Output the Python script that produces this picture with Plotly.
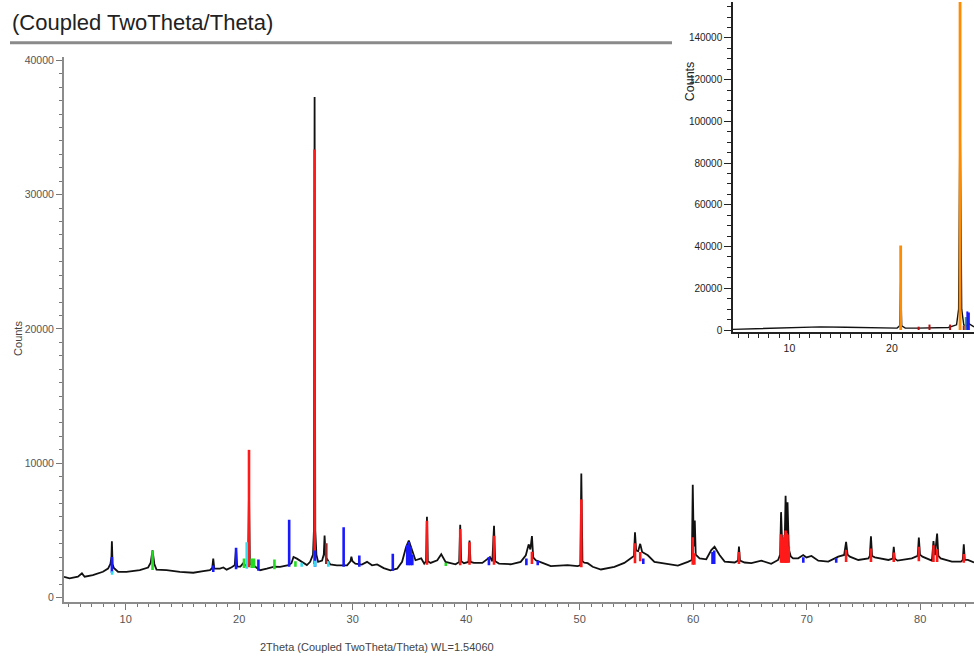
import plotly.graph_objects as go

# ---------------- main pattern (2theta, counts) ----------------
two_theta = [4.56, 5.05, 5.79, 6.14, 6.38, 7.1, 7.99, 8.44, 8.65, 8.74, 8.78, 8.84, 8.95, 9.32,
             10.06, 11.24, 11.97, 12.2, 12.36, 12.52, 12.71, 13.6, 14.77, 15.95, 16.83, 17.42,
             17.62, 17.71, 17.8, 18.3, 18.6, 18.89, 19.33, 19.6, 19.72, 19.82, 20.1, 20.36, 20.6,
             20.78, 20.86, 20.94, 21.3, 21.84, 22.43, 23.1, 23.6, 24.34, 24.6, 24.78, 25.08, 25.5,
             25.96, 26.25, 26.5, 26.58, 26.64, 26.7, 26.8, 26.95, 27.3, 27.45, 27.52, 27.62,
             27.75, 28.02, 28.6, 29.5, 29.8, 29.88, 29.98, 30.23, 30.8, 31.26, 31.7, 32.15, 32.73,
             33.32, 33.91, 34.35, 34.7, 34.94, 35.15, 35.53, 36.03, 36.3, 36.46, 36.54, 36.62,
             36.86, 37.45, 37.8, 38.18, 39.06, 39.38, 39.47, 39.56, 39.8, 40.2, 40.29, 40.38,
             40.68, 41.42, 42.09, 42.3, 42.45, 42.55, 42.89, 43.92, 44.8, 45.25, 45.5, 45.65,
             45.79, 45.9, 46.13, 46.72, 47.45, 48.93, 49.81, 50.05, 50.14, 50.24, 50.4, 50.7,
             51.14, 51.87, 53.05, 53.93, 54.52, 54.78, 54.87, 54.97, 55.15, 55.33, 55.5, 55.85,
             56.0, 56.58, 58.06, 58.65, 59.53, 59.88, 59.96, 60.05, 60.14, 60.22, 60.56, 61.15,
             61.59, 61.88, 62.32, 62.77, 63.65, 63.95, 64.03, 64.12, 64.53, 65.12, 66.0, 66.87,
             67.48, 67.66, 67.74, 67.84, 67.95, 68.06, 68.14, 68.22, 68.31, 68.42, 68.6, 68.8,
             69.25, 69.69, 69.98, 70.42, 71.02, 71.9, 72.78, 73.3, 73.47, 73.6, 73.8, 74.55,
             75.43, 75.56, 75.66, 75.76, 76.0, 77.2, 77.58, 77.67, 77.76, 78.0, 79.26, 79.78,
             79.88, 79.98, 80.2, 81.03, 81.17, 81.3, 81.49, 81.6, 81.8, 82.79, 83.6, 83.75,
             83.84, 83.93, 84.2, 84.74]
counts = [1550, 1430, 1550, 1800, 1550, 1670, 1920, 2160, 2500, 3000, 4200, 2500, 2200, 1920,
          1920, 2040, 2240, 2600, 3510, 2500, 2080, 2040, 1920, 1850, 1970, 2040,
          2200, 2900, 2150, 2160, 2240, 2080, 2260, 2400, 3630, 2300, 2300, 2560, 2360,
          2500, 7860, 2500, 2360, 2040, 2150, 2310, 2280, 2410, 2560, 3020, 2900, 2660,
          2420, 2660, 3200, 5000, 37270, 5000, 3200, 2660, 2760, 3200, 4610, 3000,
          2860, 2470, 2400, 2400, 2700, 3040, 2700, 2530, 2460, 2660, 2400, 2470, 2190,
          2020, 2150, 2660, 3760, 4250, 3660, 2780, 2920, 2530, 2700, 6010, 2700,
          2580, 2780, 3220, 2660, 2480, 2650, 5420, 2700, 2560, 2650, 4250, 2650,
          2580, 2580, 3020, 2700, 5350, 2700, 2530, 2480, 2660, 3150, 3960, 3580,
          4580, 3000, 2780, 2580, 2340, 2410, 2340, 2400, 9230, 2700, 2600, 2560,
          2290, 2090, 2290, 2580, 2900, 3100, 4860, 3500, 3460, 4000, 3400, 3260,
          3150, 2660, 2470, 2380, 2660, 2800, 8400, 3800, 5730, 3200, 2920, 2850,
          3540, 3780, 3170, 2680, 2610, 2750, 3800, 2750, 2610, 2560, 2750, 2510,
          2800, 3200, 6360, 3900, 3860, 4200, 7580, 4500, 7090, 3600, 3060, 2920,
          2920, 3170, 2990, 3100, 2750, 2680, 3050, 3170, 4150, 3200, 3050, 2800,
          2920, 3100, 4560, 3100, 2990, 2800, 2900, 3780, 2900, 2750, 2920, 3100,
          4460, 3200, 3050, 2750, 4210, 3160, 4760, 3100, 2920, 2680, 2680, 2800,
          3970, 2800, 2800, 2610]

# ---------------- reference phase sticks (main) ----------------
red_pos = [20.86, 26.64, 36.54, 39.47, 40.29, 42.45, 45.79, 50.14, 54.87, 55.33, 59.96, 60.1,
           64.03, 67.74, 67.84, 67.95, 68.05, 68.14, 68.22, 68.31, 68.42, 73.47, 75.66, 77.67,
           79.88, 81.17, 81.49, 83.84]
red_top = [11000, 33360, 5720, 5100, 4120, 4610, 3410, 7310, 4050, 3400, 4490, 3300,
           3390, 4720, 4300, 4500, 4650, 5000, 4800, 4700, 3800, 3540, 3660, 3350,
           3780, 3900, 3600, 3250]
red_base = [2250, 2500, 2450, 2400, 2450, 2450, 2500, 2250, 2550, 2700, 2450, 2450,
            2500, 2600, 2600, 2600, 2600, 2600, 2600, 2600, 2600, 2650, 2650, 2650,
            2700, 2650, 2650, 2600]

darkred_pos = [27.67]
darkred_top = [4050]
darkred_base = [2500]

blue_pos = [8.78, 17.71, 19.72, 21.69, 24.4, 26.68, 29.2, 30.58, 33.53, 34.8, 34.95, 35.1,
            35.25, 42.0, 45.3, 46.3, 55.6, 61.7, 61.85, 69.7, 72.6]
blue_top = [3020, 2380, 3710, 2830, 5790, 3510, 5230, 3140, 3270, 3900, 4130, 3800,
            3200, 3020, 2900, 2750, 2900, 3400, 3500, 3000, 2950]
blue_base = [1850, 1900, 2100, 2000, 2300, 2300, 2300, 2300, 2000, 2400, 2400, 2400,
             2400, 2400, 2400, 2400, 2500, 2500, 2500, 2600, 2600]

green_pos = [12.36, 20.42, 21.1, 21.3, 23.1, 24.95, 38.2]
green_top = [3510, 2900, 2900, 2900, 2830, 2700, 2600]
green_base = [2050, 2200, 2200, 2200, 2100, 2300, 2350]

cyan_pos = [8.8, 20.66, 25.5, 26.68, 27.85]
cyan_top = [1950, 4120, 2600, 2750, 2700]
cyan_base = [1700, 2150, 2300, 2300, 2300]

# ---------------- inset pattern ----------------
inset_tt = [4.5, 6, 8, 10, 11.5, 13, 15.5, 18, 20.5, 20.75, 20.85, 20.95, 21.3, 22.5, 24, 25.5,
            26.3, 26.5, 26.64, 26.8, 27.0, 27.3, 27.5, 28.0]
inset_counts = [300, 500, 900, 1200, 1400, 1500, 1300, 1000, 900, 2000, 22800, 2000, 900, 900,
                1000, 1200, 2500, 10000, 106500, 10000, 2500, 2000, 3000, 1500]

orange_pos = [20.85, 26.64]
orange_top = [40500, 190000]
inset_red_pos = [22.6, 23.66, 25.67, 27.0]
inset_red_top = [1600, 2600, 2600, 2200]
inset_blue_pos = [27.35, 27.5]
inset_blue_top = [8900, 8400]
inset_green_pos = [27.2]
inset_green_top = [6200]

FONT = "Liberation Sans, Arial, sans-serif"


def sticks(pos, top, base=None):
    xs, ys = [], []
    for i, p in enumerate(pos):
        b = 0 if base is None else base[i]
        xs += [p, p, None]
        ys += [b, top[i], None]
    return xs, ys


fig = go.Figure()

# main pattern
fig.add_trace(go.Scatter(x=two_theta, y=counts, mode="lines",
                         line=dict(color="#111111", width=1.8), xaxis="x", yaxis="y"))
for pos, top, base, col in [(red_pos, red_top, red_base, "#ff1a1a"),
                            (darkred_pos, darkred_top, darkred_base, "#9a2a2a"),
                            (blue_pos, blue_top, blue_base, "#1a1aff"),
                            (green_pos, green_top, green_base, "#22dd22"),
                            (cyan_pos, cyan_top, cyan_base, "#33ddee")]:
    xs, ys = sticks(pos, top, base)
    fig.add_trace(go.Scatter(x=xs, y=ys, mode="lines", line=dict(color=col, width=2.6),
                             xaxis="x", yaxis="y"))

# inset
fig.add_trace(go.Scatter(x=inset_tt, y=inset_counts, mode="lines",
                         line=dict(color="#111111", width=1.4), xaxis="x2", yaxis="y2"))
for pos, top, col, w in [(orange_pos, orange_top, "#ff8c00", 2.8),
                         (inset_red_pos, inset_red_top, "#b01010", 2),
                         (inset_green_pos, inset_green_top, "#22bb22", 2),
                         (inset_blue_pos, inset_blue_top, "#1a1aff", 2)]:
    xs, ys = sticks(pos, top)
    fig.add_trace(go.Scatter(x=xs, y=ys, mode="lines", line=dict(color=col, width=w),
                             xaxis="x2", yaxis="y2"))

W, H = 974, 663
fig.update_layout(
    width=W, height=H, margin=dict(l=0, r=0, t=0, b=0),
    paper_bgcolor="white", plot_bgcolor="white", showlegend=False,
    font=dict(family=FONT),
    xaxis=dict(domain=[64 / W, 1], range=[4.56, 84.74], showline=True, linecolor="#8c8c8c",
               linewidth=2, ticks="outside", ticklen=6, tickcolor="#777", tickwidth=1,
               tick0=0, dtick=10, showgrid=False, zeroline=False,
               tickfont=dict(size=11, color="#555"),
               minor=dict(ticks="outside", ticklen=3, dtick=1, tick0=0, tickcolor="#777", showgrid=False)),
    yaxis=dict(domain=[(H - 605) / H, (H - 55) / H], range=[-295, 40290], showline=True,
               linecolor="#8c8c8c", linewidth=2, ticks="outside", ticklen=6, tickcolor="#777",
               tick0=0, dtick=10000, tickformat="d", showgrid=False, zeroline=False,
               tickfont=dict(size=10.5, color="#555"),
               minor=dict(ticks="outside", ticklen=3, dtick=1000, tick0=0, tickcolor="#777", showgrid=False)),
    xaxis2=dict(domain=[733 / W, 1], range=[4.5, 28.0], anchor="y2", showline=True,
                linecolor="#222", linewidth=1.5, ticks="outside", ticklen=6, tickcolor="#222",
                tick0=0, dtick=10, showgrid=False, zeroline=False,
                tickfont=dict(size=10.5, color="#222"),
                minor=dict(ticks="outside", ticklen=4, dtick=1, tick0=0, tickcolor="#222", showgrid=False)),
    yaxis2=dict(domain=[(H - 333) / H, 1], range=[-950, 157200], anchor="x2", showline=True,
                linecolor="#222", linewidth=1.5, ticks="outside", ticklen=7, tickcolor="#222",
                tick0=0, dtick=20000, tickformat="d", showgrid=False, zeroline=False,
                tickfont=dict(size=10, color="#222"),
                minor=dict(ticks="outside", ticklen=4, dtick=5000, tick0=0, tickcolor="#222", showgrid=False)),
    shapes=[dict(type="line", xref="paper", yref="paper", x0=10 / W, x1=672 / W,
                 y0=1 - 41 / H, y1=1 - 41 / H, line=dict(color="#8a8a8a", width=3))],
    annotations=[
        dict(text="(Coupled TwoTheta/Theta)", xref="paper", yref="paper", x=10 / W, y=1 - 21 / H,
             xanchor="left", yanchor="middle", showarrow=False,
             font=dict(size=22, color="#222", family=FONT)),
        dict(text="Counts", xref="paper", yref="paper", x=18 / W, y=1 - 340 / H, textangle=-90,
             xanchor="center", yanchor="middle", showarrow=False,
             font=dict(size=11, color="#444", family=FONT)),
        dict(text="2Theta (Coupled TwoTheta/Theta) WL=1.54060", xref="paper", yref="paper",
             x=377 / W, y=1 - 651 / H, xanchor="center", yanchor="middle", showarrow=False,
             font=dict(size=11, color="#444", family=FONT)),
        dict(text="Counts", xref="paper", yref="paper", x=690 / W, y=1 - 80 / H, textangle=-90,
             xanchor="center", yanchor="middle", showarrow=False,
             font=dict(size=12.5, color="#222", family=FONT)),
    ],
)

fig.write_html("out.html")
